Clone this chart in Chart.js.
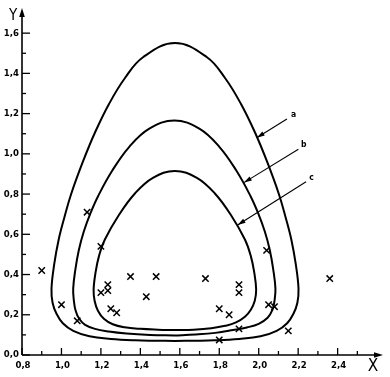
<!DOCTYPE html>
<html>
<head>
<meta charset="utf-8">
<script src="https://cdn.jsdelivr.net/npm/chart.js@4.4.1/dist/chart.umd.min.js"></script>
<style>
  html, body { margin: 0; padding: 0; background: #ffffff; }
  #wrap { width: 390px; height: 377px; }
</style>
</head>
<body>
<div id="wrap"><canvas id="chart" width="390" height="377"></canvas></div>
<script>
// Axes : graduations et libellés (virgule décimale comme sur l'original)
const xTickValues = [0.8, 1.0, 1.2, 1.4, 1.6, 1.8, 2.0, 2.2, 2.4];
const xTickLabels = ['0,8', '1,0', '1,2', '1,4', '1,6', '1,8', '2,0', '2,2', '2,4'];
const xMinorTicks = [0.9, 1.1, 1.3, 1.5, 1.7, 1.9, 2.1, 2.3, 2.5];
const yTickValues = [0.0, 0.2, 0.4, 0.6, 0.8, 1.0, 1.2, 1.4, 1.6];
const yTickLabels = ['0,0', '0,2', '0,4', '0,6', '0,8', '1,0', '1,2', '1,4', '1,6'];
const yMinorTicks = [0.1, 0.3, 0.5, 0.7, 0.9, 1.1, 1.3, 1.5];

// Mesures (croix)
const pointsX = [0.90, 1.00, 1.08, 1.13, 1.20, 1.20, 1.235, 1.235, 1.25, 1.28, 1.35, 1.43, 1.48,
                 1.73, 1.80, 1.85, 1.90, 1.90, 1.90, 1.80, 2.04, 2.05, 2.08, 2.15, 2.36];
const pointsY = [0.42, 0.25, 0.17, 0.71, 0.54, 0.31, 0.35, 0.32, 0.23, 0.21, 0.39, 0.29, 0.39,
                 0.38, 0.23, 0.20, 0.35, 0.31, 0.13, 0.075, 0.52, 0.25, 0.24, 0.12, 0.38];

// Courbes fermées a, b, c, départ au bas de la courbe
const curveA = [
    [1.5756, 0.07], [1.475, 0.071], [1.375, 0.073], [1.25, 0.08], [1.142, 0.093], [1.06, 0.12],
    [1.007, 0.158], [0.975, 0.205], [0.955, 0.26], [0.9495, 0.33], [0.9632, 0.45], [0.9855, 0.572],
    [1.0154, 0.686], [1.0484, 0.798], [1.1092, 0.962], [1.170, 1.106], [1.241, 1.248], [1.322, 1.377],
    [1.4134, 1.48], [1.5756, 1.551], [1.7378, 1.48], [1.8292, 1.377], [1.9102, 1.248], [1.9812, 1.106],
    [2.042, 0.962], [2.1028, 0.798], [2.1358, 0.686], [2.1657, 0.572], [2.188, 0.45], [2.2017, 0.33],
    [2.196, 0.26], [2.176, 0.205], [2.144, 0.158], [2.091, 0.12], [2.009, 0.093], [1.901, 0.08],
    [1.776, 0.073], [1.676, 0.071], [1.5756, 0.07]
];
const curveB = [
    [1.572, 0.097], [1.45, 0.100], [1.33, 0.107], [1.24, 0.117], [1.17, 0.13], [1.12, 0.15],
    [1.09, 0.18], [1.072, 0.22], [1.063, 0.27], [1.0595, 0.33], [1.0707, 0.426], [1.0879, 0.521],
    [1.1133, 0.614], [1.1467, 0.704], [1.1868, 0.792], [1.2578, 0.917], [1.3439, 1.035], [1.4453, 1.125],
    [1.5721, 1.166], [1.6989, 1.125], [1.8003, 1.035], [1.8864, 0.917], [1.9574, 0.792], [1.9975, 0.704],
    [2.0309, 0.614], [2.0563, 0.521], [2.0735, 0.426], [2.0847, 0.33], [2.08, 0.27], [2.07, 0.225],
    [2.045, 0.185], [2.0, 0.155], [1.94, 0.137], [1.87, 0.124], [1.78, 0.11], [1.68, 0.102],
    [1.572, 0.097]
];
const curveC = [
    [1.575, 0.124], [1.49, 0.126], [1.40, 0.13], [1.32, 0.138], [1.26, 0.153], [1.215, 0.18],
    [1.185, 0.22], [1.168, 0.27], [1.163, 0.325], [1.1731, 0.412], [1.1908, 0.494], [1.2202, 0.574],
    [1.2912, 0.696], [1.3723, 0.803], [1.4636, 0.881], [1.5751, 0.915], [1.6866, 0.881], [1.7779, 0.803],
    [1.859, 0.696], [1.93, 0.574], [1.9594, 0.494], [1.9771, 0.412], [1.987, 0.325], [1.98, 0.27],
    [1.96, 0.225], [1.93, 0.19], [1.885, 0.162], [1.83, 0.145], [1.76, 0.133], [1.67, 0.126],
    [1.575, 0.124]
];

// Flèches de repérage : pointe, origine, position de la lettre
const arrowLabels = ['a', 'b', 'c'];
const arrowTips = [[1.99, 1.08], [1.925, 0.857], [1.893, 0.646]];
const arrowStarts = [[2.143, 1.173], [2.201, 1.023], [2.240, 0.861]];
const arrowLabelPos = [[2.164, 1.193], [2.214, 1.044], [2.256, 0.883]];

const FONT = '"DejaVu Sans Condensed", "DejaVu Sans", sans-serif';

function toXY(list) {
    return list.map(p => ({ x: p[0], y: p[1] }));
}

function filledArrow(ctx, x1, y1, x2, y2, len, half) {
    // pointe en (x2, y2)
    const ang = Math.atan2(y2 - y1, x2 - x1);
    ctx.beginPath();
    ctx.moveTo(x2, y2);
    ctx.lineTo(x2 - len * Math.cos(ang) + half * Math.sin(ang), y2 - len * Math.sin(ang) - half * Math.cos(ang));
    ctx.lineTo(x2 - len * Math.cos(ang) - half * Math.sin(ang), y2 - len * Math.sin(ang) + half * Math.cos(ang));
    ctx.closePath();
    ctx.fill();
}

// Axes dessinés à la main (graduations vers l'intérieur, flèches aux extrémités)
const axesPlugin = {
    id: 'axesPlugin',
    afterDatasetsDraw(chart) {
        const ctx = chart.ctx;
        const xs = chart.scales.x;
        const ys = chart.scales.y;
        const x0 = xs.getPixelForValue(0.8);
        const y0 = ys.getPixelForValue(0);
        const area = chart.chartArea;

        ctx.save();
        ctx.strokeStyle = '#000';
        ctx.fillStyle = '#000';
        ctx.lineWidth = 1.6;

        // axe Y
        ctx.beginPath();
        ctx.moveTo(x0, y0);
        ctx.lineTo(x0, area.top + 4);
        ctx.stroke();
        filledArrow(ctx, x0, y0, x0, area.top, 9, 2.8);

        // axe X
        ctx.beginPath();
        ctx.moveTo(x0, y0);
        ctx.lineTo(area.right - 4, y0);
        ctx.stroke();
        filledArrow(ctx, x0, y0, area.right, y0, 9, 2.8);

        ctx.lineWidth = 1.3;
        // graduations X
        xTickValues.forEach(v => {
            const px = xs.getPixelForValue(v);
            ctx.beginPath(); ctx.moveTo(px, y0); ctx.lineTo(px, y0 - 7); ctx.stroke();
        });
        xMinorTicks.forEach(v => {
            const px = xs.getPixelForValue(v);
            ctx.beginPath(); ctx.moveTo(px, y0); ctx.lineTo(px, y0 - 4); ctx.stroke();
        });
        // graduations Y
        yTickValues.forEach(v => {
            const py = ys.getPixelForValue(v);
            ctx.beginPath(); ctx.moveTo(x0, py); ctx.lineTo(x0 + 8, py); ctx.stroke();
        });
        yMinorTicks.forEach(v => {
            const py = ys.getPixelForValue(v);
            ctx.beginPath(); ctx.moveTo(x0, py); ctx.lineTo(x0 + 4, py); ctx.stroke();
        });

        // libellés
        ctx.font = 'bold 9.5px ' + FONT;
        ctx.textAlign = 'center';
        ctx.textBaseline = 'middle';
        xTickValues.forEach((v, i) => {
            ctx.fillText(xTickLabels[i], xs.getPixelForValue(v) + 1, y0 + 11);
        });
        ctx.textAlign = 'right';
        yTickValues.forEach((v, i) => {
            ctx.fillText(yTickLabels[i], x0 - 3, ys.getPixelForValue(v));
        });

        // noms des axes
        ctx.font = '17px ' + FONT;
        ctx.textAlign = 'center';
        ctx.fillText('X', area.right - 10, y0 + 12);
        ctx.font = '15px ' + FONT;
        ctx.fillText('Y', x0 - 9, area.top + 8);

        // flèches a, b, c
        ctx.lineWidth = 1.1;
        arrowLabels.forEach((lab, i) => {
            const tx = xs.getPixelForValue(arrowTips[i][0]);
            const ty = ys.getPixelForValue(arrowTips[i][1]);
            const sx = xs.getPixelForValue(arrowStarts[i][0]);
            const sy = ys.getPixelForValue(arrowStarts[i][1]);
            ctx.beginPath(); ctx.moveTo(sx, sy); ctx.lineTo(tx, ty); ctx.stroke();
            filledArrow(ctx, sx, sy, tx, ty, 8, 2.3);
            ctx.font = 'bold 8.5px ' + FONT;
            ctx.textAlign = 'left';
            ctx.textBaseline = 'middle';
            ctx.fillText(lab, xs.getPixelForValue(arrowLabelPos[i][0]), ys.getPixelForValue(arrowLabelPos[i][1]));
        });
        ctx.restore();
    }
};

const curveStyle = {
    showLine: true,
    borderColor: '#000',
    borderWidth: 2,
    pointRadius: 0,
    tension: 0.4,
    fill: false
};

new Chart(document.getElementById('chart').getContext('2d'), {
    type: 'scatter',
    data: {
        datasets: [
            Object.assign({ label: 'a', data: toXY(curveA) }, curveStyle),
            Object.assign({ label: 'b', data: toXY(curveB) }, curveStyle),
            Object.assign({ label: 'c', data: toXY(curveC) }, curveStyle),
            {
                label: 'mesures',
                data: pointsX.map((x, i) => ({ x: x, y: pointsY[i] })),
                pointStyle: 'crossRot',
                pointRadius: 4.5,
                pointBorderWidth: 1.5,
                borderColor: '#000',
                backgroundColor: '#000',
                showLine: false
            }
        ]
    },
    options: {
        responsive: false,
        animation: false,
        layout: {
            padding: { left: 22, right: 7, top: 8, bottom: 22 }
        },
        plugins: {
            legend: { display: false },
            tooltip: { enabled: false }
        },
        scales: {
            x: { type: 'linear', min: 0.8, max: 2.63, display: false },
            y: { type: 'linear', min: 0, max: 1.725, display: false }
        }
    },
    plugins: [axesPlugin]
});
</script>
</body>
</html>
